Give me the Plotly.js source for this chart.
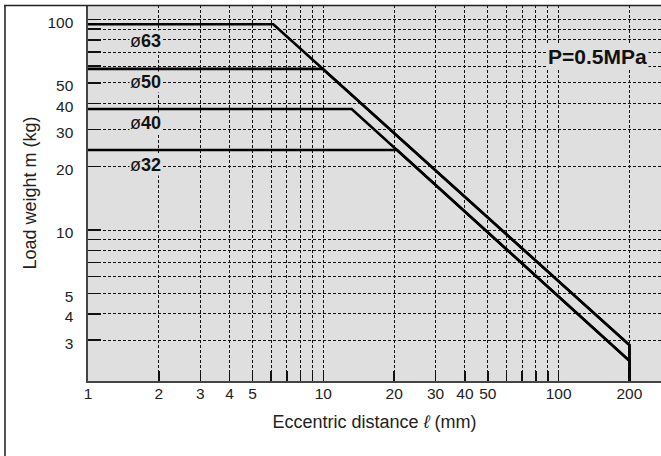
<!DOCTYPE html>
<html>
<head>
<meta charset="utf-8">
<script src="https://cdn.plot.ly/plotly-3.0.1.min.js"></script>
<style>
  html, body { margin: 0; padding: 0; background: #fff; }
  #chart { width: 661px; height: 456px; }
</style>
</head>
<body>
<div id="chart"></div>
<script>
// ---- data ----
const bores = ['ø63', 'ø50', 'ø40', 'ø32'];
const x63 = [1, 6.13, 200, 200];
const y63 = [95, 95, 2.84, 1.9];
const x50 = [1, 9.94, 200, 200];
const y50 = [58.3, 58.3, 2.84, 1.9];
const x40 = [1, 13.2, 200, 200];
const y40 = [37.6, 37.6, 2.39, 1.9];
const x32 = [1, 20.6, 200, 200];
const y32 = [24.0, 24.0, 2.39, 1.9];

const xTickVals = [1, 2, 3, 4, 5, 6, 7, 8, 9, 10, 20, 30, 40, 50, 60, 70, 80, 90, 100, 200];
const xTickText = ['1', '2', '3', '4', '5', '', '', '', '', '10', '20', '30', '40', '50', '', '', '', '', '100', '200'];
const yTickVals = [3, 4, 5, 6, 7, 8, 9, 10, 20, 30, 40, 50, 60, 70, 80, 90, 100];
const yTickText = ['3', '4', '5', '', '', '', '', '10', '20', '30', '40', '50', '', '', '', '', '100'];

// label anchor positions (data units)
const labelX = [1.76, 1.76, 1.76, 1.76];
const labelY = [79.2, 50.6, 32.2, 20.4];
const pressureText = 'P=0.5MPa';
const pressureX = 147;
const pressureY = 67;

const xTitle = 'Eccentric distance <i>ℓ</i> (mm)';
const yTitle = 'Load weight m (kg)';

// ---- chart ----
const FONT = 'Liberation Sans, Arial, sans-serif';
const series = [[x63, y63], [x50, y50], [x40, y40], [x32, y32]];
const traces = series.map((s, i) => ({
  type: 'scatter', mode: 'lines', name: bores[i],
  x: s[0], y: s[1],
  line: { color: '#000', width: 2.6 },
  hoverinfo: 'skip'
}));

const annotations = bores.map((b, i) => ({
  x: Math.log10(labelX[i]), y: Math.log10(labelY[i]),
  xref: 'x', yref: 'y', showarrow: false,
  text: '<span style="font-weight:normal">ø</span><b>' + b.slice(1) + '</b>',
  font: { family: FONT, size: 18, color: '#111' },
  bgcolor: '#dfdfdf', borderpad: 0
}));
annotations.push({
  x: Math.log10(pressureX), y: Math.log10(pressureY),
  xref: 'x', yref: 'y', showarrow: false,
  text: '<b>' + pressureText + '</b>',
  font: { family: FONT, size: 21, color: '#111' },
  bgcolor: '#dfdfdf', borderpad: 1
});

const W = 661, H = 456, L = 88, T = 5, R = 0, B = 75;
const pw = W - L - R, ph = H - T - B;
const fx = px => (px - L) / pw;
const fy = py => 1 - (py - T) / ph;

const layout = {
  width: W, height: H,
  margin: { l: L, r: R, t: T, b: B, pad: 0 },
  paper_bgcolor: '#ffffff',
  plot_bgcolor: '#dfdfdf',
  showlegend: false,
  font: { family: FONT, color: '#222' },
  xaxis: {
    type: 'log', range: [0, 2.4352], autorange: false,
    tickmode: 'array', tickvals: xTickVals, ticktext: xTickText,
    ticks: 'inside', ticklen: 10, tickwidth: 1.5, tickcolor: '#111',
    showgrid: true, gridcolor: '#111', gridwidth: 1, griddash: '3px,2px',
    showline: true, linecolor: '#444', linewidth: 1.6, mirror: false,
    zeroline: false,
    tickfont: { family: FONT, size: 15.5, color: '#222' },
    ticklabelstandoff: -2,
    automargin: false,
    title: { text: xTitle, font: { family: FONT, size: 18, color: '#222' }, standoff: 14 }
  },
  yaxis: {
    type: 'log', range: [0.2827, 2.0689], autorange: false,
    tickmode: 'array', tickvals: yTickVals, ticktext: yTickText,
    ticks: 'inside', ticklen: 13, tickwidth: 1.5, tickcolor: '#111',
    showgrid: true, gridcolor: '#111', gridwidth: 1, griddash: '3px,2px',
    showline: true, linecolor: '#444', linewidth: 1.6, mirror: false,
    zeroline: false,
    tickfont: { family: FONT, size: 15.5, color: '#222' },
    ticklabelstandoff: 10,
    ticklabelshift: 3,
    automargin: false,
    title: { text: yTitle, font: { family: FONT, size: 18, color: '#222' }, standoff: 6 }
  },
  annotations: annotations,
  shapes: [
    { type: 'line', xref: 'paper', yref: 'paper', x0: fx(5), x1: fx(5), y0: fy(5), y1: fy(470),
      line: { color: '#555', width: 2 }, layer: 'above' },
    { type: 'line', xref: 'paper', yref: 'paper', x0: fx(4), x1: fx(670), y0: fy(5.5), y1: fy(5.5),
      line: { color: '#222', width: 1.5 }, layer: 'above' }
  ]
};

Plotly.newPlot('chart', traces, layout, { staticPlot: true, displayModeBar: false });
</script>
</body>
</html>
